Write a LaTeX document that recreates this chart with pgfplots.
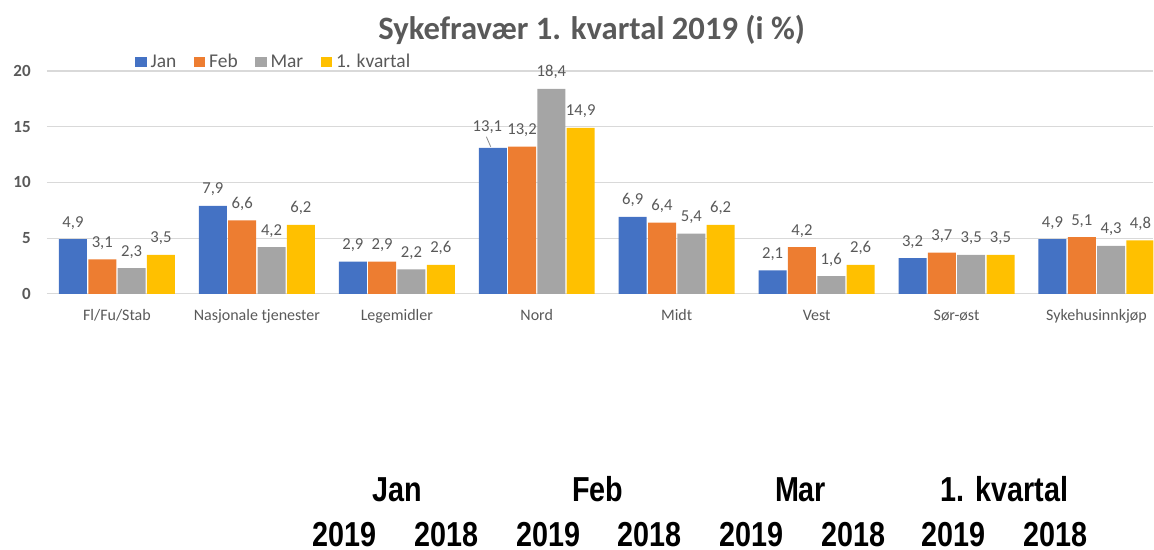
\documentclass[border=0pt]{standalone}
\usepackage{pgfplots}
\pgfplotsset{compat=1.18}
\usepackage{pgfplotstable}
\usepackage{fontspec}
\setmainfont{Carlito}
\newfontfamily\arialn{Liberation Sans}[FakeStretch=0.83]
\definecolor{cJan}{HTML}{4472C4}
\definecolor{cFeb}{HTML}{ED7D31}
\definecolor{cMar}{HTML}{A5A5A5}
\definecolor{cKv}{HTML}{FFC000}
\definecolor{txt}{HTML}{595959}
\definecolor{gridc}{HTML}{D9D9D9}
\pgfplotstableread{
x jan feb mar kv
0 4.9 3.1 2.3 3.5
1 7.9 6.6 4.2 6.2
2 2.9 2.9 2.2 2.6
3 13.1 13.2 18.4 14.9
4 6.9 6.4 5.4 6.2
5 2.1 4.2 1.6 2.6
6 3.2 3.7 3.5 3.5
7 4.9 5.1 4.3 4.8
}\data
\begin{document}
\begin{tikzpicture}
\begin{scope}[x=0.75pt,y=0.75pt]
\path[use as bounding box] (0,0) rectangle (1154,550);
\end{scope}
\begin{axis}[
  at={(35.25pt,192pt)}, anchor=south west,
  scale only axis, width=830.25pt, height=167.25pt,
  xmin=-0.5, xmax=7.407, ymin=0, ymax=20,
  axis line style={draw=none},
  major tick length=0pt,
  ymajorgrids, grid style={gridc, line width=0.9pt},
  ytick={0,5,...,20},
  xtick={0,...,7},
  xticklabels={Fl/Fu/Stab, Nasjonale tjenester, Legemidler, Nord, Midt, Vest, Sør-øst, Sykehusinnkjøp},
  /pgf/number format/assume math mode=true,
  yticklabel style={font=\bfseries\fontsize{12.75}{12.75}\selectfont, text=txt, anchor=east, inner sep=0pt, xshift=-12pt},
  xticklabel style={font=\fontsize{12}{12}\selectfont, text=txt, anchor=base, inner sep=0pt, yshift=-20.25pt},
  every node near coord/.append style={font=\fontsize{12.5}{12.5}\selectfont, text=txt, anchor=base, inner sep=0pt, yshift=9pt},
  lbl/.style={nodes near coords={\pgfmathprintnumber[fixed, fixed zerofill, precision=1, use comma, assume math mode=true]{\pgfplotspointmeta}},
    every node near coord/.append style={xshift=#1}},
  legend columns=4,
  legend style={at={(axis description cs:0.0795,1)}, anchor=west, yshift=6.75pt, draw=none, fill=none, inner sep=0pt,
    nodes={font=\fontsize{14.6}{14.6}\selectfont, text=txt, inner xsep=3pt, inner ysep=1.5pt},
    /tikz/every odd column/.append style={column sep=0pt},
    /tikz/every even column/.append style={column sep=10pt}},
  legend image code/.code={\fill[#1,draw=none] (0pt,-4.1pt) rectangle (8.6pt,4.1pt);},
]
\addplot[ybar, bar width=21pt, bar shift=-33pt, fill=cJan, draw=none] table[x=x,y=jan]{\data};
\addlegendentry{Jan}
\addplot[ybar, bar width=21pt, bar shift=-11pt, fill=cFeb, draw=none, lbl=-11pt] table[x=x,y=feb]{\data};
\addlegendentry{Feb}
\addplot[ybar, bar width=21pt, bar shift=11pt, fill=cMar, draw=none, lbl=11pt] table[x=x,y=mar]{\data};
\addlegendentry{Mar}
\addplot[ybar, bar width=21pt, bar shift=33pt, fill=cKv, draw=none, lbl=33pt] table[x=x,y=kv]{\data};
\addlegendentry{1. kvartal}
% Jan value labels (Nord label moved aside with a leader line)
\addplot[ybar, bar width=21pt, bar shift=-33pt, draw=none, fill=none, forget plot, lbl=-33pt,
  x filter/.expression={x==3 ? nan : x}] table[x=x,y=jan]{\data};
\addplot[ybar, bar width=21pt, bar shift=-33pt, draw=none, fill=none, forget plot, lbl=-37pt,
  x filter/.expression={x==3 ? x : nan},
  every node near coord/.append style={yshift=3pt}] table[x=x,y=jan]{\data};
\draw[txt!70, line width=0.6pt] (axis cs:2.671,13.2) -- (axis cs:2.64,14.1);
\end{axis}
\begin{scope}[x=0.75pt,y=0.75pt]
\node[font=\bfseries\fontsize{24.5}{24.5}\selectfont, text=txt, anchor=base, inner sep=0pt] at (592,510) {Sykefravær 1. kvartal 2019 (i \%)};
\begin{scope}[every node/.style={font=\arialn\bfseries\fontsize{26}{26}\selectfont, anchor=base, inner sep=0pt}]
\node at (397,48) {Jan};
\node at (598,48) {Feb};
\node at (801,48) {Mar};
\node at (1005,48) {1. kvartal};
\node at (345,3) {2019};
\node at (447,3) {2018};
\node at (549,3) {2019};
\node at (650,3) {2018};
\node at (752,3) {2019};
\node at (854,3) {2018};
\node at (954,3) {2019};
\node at (1056,3) {2018};
\end{scope}
\end{scope}
\end{tikzpicture}
\end{document}
